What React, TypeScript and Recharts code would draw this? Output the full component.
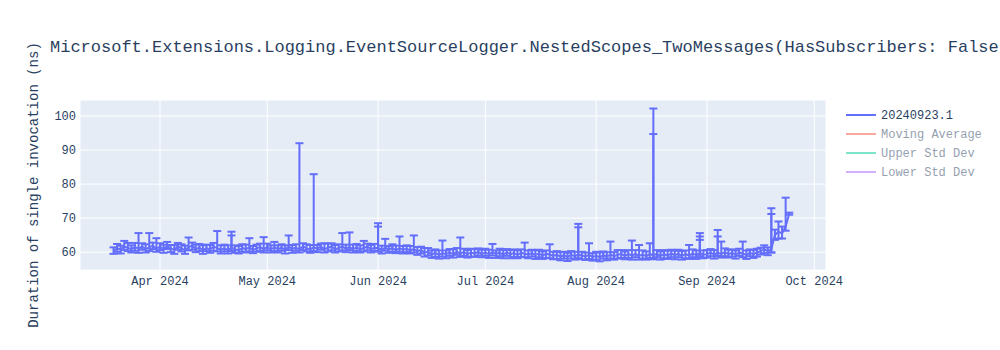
import React from "react";
import {
  ComposedChart,
  Line,
  ErrorBar,
  XAxis,
  YAxis,
  CartesianGrid,
  Customized,
} from "recharts";

// Daily runs: mean duration (ns), and the error above / below it
// March starts on the 19th, September ends on the 24th
const marMean = [60.4, 61.1, 60.8, 61.7, 61.2, 60.9, 61.5, 61.0, 61.6, 60.9, 61.4, 61.9, 61.0];
const marUp = [1.0, 1.3, 1.1, 1.6, 1.5, 1.1, 1.2, 4.6, 1.0, 1.4, 4.2, 0.9, 3.1];
const marDown = [0.9, 1.0, 1.2, 1.1, 0.9, 1.0, 1.1, 1.2, 0.9, 1.0, 1.1, 1.0, 0.9];

const aprMean = [61.6, 60.9, 61.8, 61.0, 60.7, 61.7, 61.1, 60.6, 61.5, 61.9, 60.9, 61.3, 60.6, 61.2, 60.8, 61.6, 61.2, 60.7, 61.1, 60.6, 61.4, 60.8, 60.5, 61.2, 60.9, 61.4, 60.6, 61.1, 61.5, 60.9];
const aprUp = [1.0, 1.3, 1.2, 1.1, 1.4, 1.0, 1.2, 1.3, 2.8, 0.9, 1.3, 1.1, 1.4, 1.0, 1.3, 1.1, 5.0, 1.3, 1.1, 1.4, 4.6, 1.2, 1.3, 1.1, 1.3, 2.7, 1.2, 1.1, 1.0, 3.5];
const aprDown = [1.0, 1.1, 0.9, 1.0, 1.2, 1.0, 0.9, 1.1, 1.0, 1.2, 0.9, 1.0, 1.1, 0.9, 1.0, 1.2, 1.0, 1.1, 0.9, 1.0, 1.1, 1.0, 0.9, 1.1, 1.0, 1.2, 0.9, 1.0, 1.1, 1.0];

const mayMean = [61.5, 60.8, 61.4, 60.9, 61.3, 60.7, 61.6, 61.0, 61.3, 60.9, 61.7, 61.1, 60.8, 61.4, 61.0, 61.6, 60.9, 61.3, 61.7, 60.8, 61.2, 61.6, 61.0, 61.5, 60.9, 61.4, 60.8, 61.2, 61.6, 60.9, 61.3];
const mayUp = [1.0, 1.2, 1.6, 1.1, 1.0, 1.3, 3.3, 1.1, 1.0, 31.1, 0.9, 1.2, 1.3, 21.5, 1.1, 0.9, 1.7, 1.2, 0.9, 1.3, 1.1, 4.0, 1.2, 4.3, 1.3, 1.0, 1.2, 2.1, 0.9, 1.2, 1.1];
const mayDown = [1.0, 0.9, 1.1, 1.0, 0.9, 1.1, 1.0, 1.2, 0.9, 1.0, 1.1, 0.9, 1.0, 1.1, 1.0, 0.9, 1.0, 1.1, 1.2, 0.9, 1.0, 1.1, 1.0, 0.9, 1.0, 1.1, 0.9, 1.0, 1.1, 1.0, 0.9];

const junMean = [61.2, 60.7, 61.3, 60.8, 61.2, 60.6, 61.1, 60.7, 61.0, 60.5, 60.9, 60.3, 60.6, 59.9, 60.1, 59.3, 59.8, 59.2, 59.7, 59.4, 59.9, 59.5, 60.1, 59.6, 60.0, 59.4, 59.9, 59.6, 60.1, 59.5];
const junUp = [7.3, 1.2, 2.6, 1.0, 1.1, 1.3, 3.5, 1.1, 1.0, 1.3, 4.0, 1.2, 1.0, 1.3, 1.1, 1.2, 1.0, 1.3, 3.7, 1.1, 1.0, 1.3, 1.1, 4.7, 1.0, 1.2, 1.1, 1.3, 1.0, 1.2];
const junDown = [1.0, 1.1, 0.9, 1.0, 1.1, 0.9, 1.0, 1.1, 1.0, 0.9, 1.0, 1.1, 1.0, 1.2, 1.1, 1.0, 1.2, 1.1, 1.0, 1.2, 1.0, 1.1, 0.9, 1.0, 1.1, 1.0, 1.2, 1.0, 1.1, 1.0];

const julMean = [59.9, 59.4, 60.0, 59.5, 59.8, 59.3, 59.9, 59.4, 59.7, 59.2, 59.8, 59.5, 59.3, 59.7, 59.2, 59.6, 59.0, 59.5, 59.3, 58.9, 59.2, 58.7, 59.1, 58.6, 59.2, 58.8, 59.3, 59.0, 58.7, 59.2, 58.6];
const julUp = [1.1, 1.3, 2.4, 1.0, 1.2, 1.3, 1.0, 1.2, 1.1, 1.3, 1.0, 3.3, 1.2, 1.0, 1.3, 1.1, 1.2, 1.0, 3.0, 1.2, 1.1, 1.3, 1.0, 1.2, 1.1, 1.3, 9.0, 1.1, 1.2, 3.4, 1.1];
const julDown = [1.0, 1.1, 1.0, 1.2, 1.0, 1.1, 1.0, 1.2, 1.1, 1.0, 1.2, 1.0, 1.1, 1.0, 1.2, 1.1, 1.0, 1.2, 1.1, 1.0, 1.2, 1.1, 1.0, 1.2, 1.1, 1.0, 1.2, 1.1, 1.0, 1.2, 1.1];

const augMean = [58.9, 58.5, 59.1, 58.7, 59.3, 58.8, 59.2, 59.5, 58.9, 59.4, 59.0, 59.5, 58.9, 59.3, 58.8, 59.4, 59.1, 59.5, 58.9, 59.4, 59.0, 59.6, 59.1, 59.5, 58.9, 59.4, 59.0, 59.6, 59.2, 59.7, 59.3];
const augUp = [1.2, 1.4, 1.1, 1.3, 3.8, 1.2, 1.4, 1.1, 1.3, 1.2, 4.4, 1.1, 3.2, 1.2, 1.4, 3.2, 43.1, 1.1, 1.3, 1.2, 1.4, 1.1, 1.3, 1.2, 1.4, 1.1, 3.1, 1.2, 1.3, 5.9, 1.2];
const augDown = [1.1, 1.2, 1.0, 1.1, 1.2, 1.0, 1.1, 1.2, 1.0, 1.1, 1.2, 1.0, 1.1, 1.2, 1.0, 1.1, 1.2, 1.0, 1.1, 1.2, 1.0, 1.1, 1.2, 1.0, 1.1, 1.2, 1.0, 1.1, 1.2, 1.0, 1.1];

const sepMean = [59.4, 59.9, 59.3, 59.8, 59.5, 60.0, 59.4, 59.8, 59.3, 59.9, 59.6, 59.2, 59.8, 59.4, 59.9, 60.3, 60.8, 60.3, 60.9, 65.0, 66.0, 65.5, 67.5, 71.3];
const sepUp = [1.2, 1.0, 1.3, 6.7, 3.6, 1.1, 1.3, 1.0, 1.2, 1.1, 3.5, 1.3, 1.0, 1.2, 1.1, 1.0, 1.2, 1.1, 12.0, 1.6, 3.0, 2.0, 8.5, 0.3];
const sepDown = [1.0, 1.1, 1.2, 1.0, 1.1, 1.2, 1.0, 1.1, 1.2, 1.0, 1.1, 1.2, 1.0, 1.1, 1.2, 1.0, 1.1, 1.2, 1.0, 1.4, 2.0, 1.5, 1.2, 0.3];

// month index (0-based) and the first day of the runs in that month
const monthRuns = [
  { month: 2, firstDay: 19, mean: marMean, up: marUp, down: marDown },
  { month: 3, firstDay: 1, mean: aprMean, up: aprUp, down: aprDown },
  { month: 4, firstDay: 1, mean: mayMean, up: mayUp, down: mayDown },
  { month: 5, firstDay: 1, mean: junMean, up: junUp, down: junDown },
  { month: 6, firstDay: 1, mean: julMean, up: julUp, down: julDown },
  { month: 7, firstDay: 1, mean: augMean, up: augUp, down: augDown },
  { month: 8, firstDay: 1, mean: sepMean, up: sepUp, down: sepDown },
];

// second runs on the same day (stacked caps in the picture)
const extraRuns = [
  { month: 3, day: 21, mean: 61.4, up: 3.5, down: 1.0 },
  { month: 5, day: 1, mean: 61.2, up: 6.3, down: 1.0 },
  { month: 6, day: 27, mean: 59.3, up: 8.0, down: 1.1 },
  { month: 7, day: 17, mean: 59.1, up: 35.6, down: 1.1 },
  { month: 7, day: 30, mean: 59.7, up: 4.9, down: 1.0 },
  { month: 7, day: 30, mean: 59.7, up: 3.9, down: 1.0 },
  { month: 8, day: 4, mean: 59.8, up: 4.8, down: 1.0 },
  { month: 8, day: 19, mean: 60.9, up: 10.3, down: 1.0 },
];

const monthNames = ["Jan", "Feb", "Mar", "Apr", "May", "Jun", "Jul", "Aug", "Sep", "Oct", "Nov", "Dec"];
const xTicks = [3, 4, 5, 6, 7, 8, 9].map((m) => Date.UTC(2024, m, 1));
const yTicks = [60, 70, 80, 90, 100];

const legendItems = [
  { name: "20240923.1", color: "#636efa", visible: true },
  { name: "Moving Average", color: "#EF553B", visible: false },
  { name: "Upper Std Dev", color: "#00cc96", visible: false },
  { name: "Lower Std Dev", color: "#ab63fa", visible: false },
];

const title = "Microsoft.Extensions.Logging.EventSourceLogger.NestedScopes_TwoMessages(HasSubscribers: False)";
const yTitle = "Duration of single invocation (ns)";

const FONT = "'Courier New', 'Liberation Mono', monospace";
const TEXT = "#2a3f5f";

const data = [
  ...monthRuns.flatMap((r) =>
    r.mean.map((v, i) => ({
      t: Date.UTC(2024, r.month, r.firstDay + i),
      value: v,
      err: [r.down[i], r.up[i]],
    }))
  ),
  ...extraRuns.map((r) => ({
    t: Date.UTC(2024, r.month, r.day),
    value: r.mean,
    err: [r.down, r.up],
  })),
].sort((a, b) => a.t - b.t);

const formatMonth = (t: number) => {
  const d = new Date(t);
  return `${monthNames[d.getUTCMonth()]} ${d.getUTCFullYear()}`;
};

// titles and the plotly-style legend (hidden traces greyed out)
const Decorations = () => (
  <g>
    <text x={50} y={52} fontFamily={FONT} fontSize={17} fill={TEXT}>
      {title}
    </text>
    <text
      x={38}
      y={185}
      transform="rotate(-90 38 185)"
      textAnchor="middle"
      fontFamily={FONT}
      fontSize={14}
      fill={TEXT}
    >
      {yTitle}
    </text>
    {legendItems.map((item, i) => {
      const y = 115 + i * 19;
      return (
        <g key={item.name} opacity={item.visible ? 1 : 0.5}>
          <line x1={846} x2={876} y1={y} y2={y} stroke={item.color} strokeWidth={2} />
          <text x={881} y={y + 4} fontFamily={FONT} fontSize={12} fill={TEXT}>
            {item.name}
          </text>
        </g>
      );
    })}
  </g>
);

export default function App() {
  return (
    <div style={{ position: "absolute", left: 0, top: 0, width: 1000, height: 350, background: "#fff" }}>
      <ComposedChart
        width={1000}
        height={350}
        data={data}
        margin={{ top: 100, right: 174, bottom: 50, left: 0 }}
      >
        <CartesianGrid stroke="#fff" strokeWidth={1} fill="#E5ECF6" fillOpacity={1} />
        <XAxis
          dataKey="t"
          type="number"
          domain={[Date.UTC(2024, 2, 9, 15), Date.UTC(2024, 9, 4, 7)]}
          ticks={xTicks}
          tickFormatter={formatMonth}
          axisLine={false}
          tickLine={false}
          tickSize={0}
          tickMargin={6}
          height={30}
          allowDataOverflow
          tick={{ fontFamily: FONT, fontSize: 12, fill: TEXT }}
        />
        <YAxis
          type="number"
          domain={[54.75, 104.7]}
          ticks={yTicks}
          axisLine={false}
          tickLine={false}
          tickSize={0}
          tickMargin={4}
          width={80}
          allowDataOverflow
          tick={{ fontFamily: FONT, fontSize: 12, fill: TEXT }}
        />
        <Line
          dataKey="value"
          type="linear"
          stroke="#636efa"
          strokeWidth={2}
          dot={false}
          isAnimationActive={false}
        >
          <ErrorBar dataKey="err" direction="y" width={4} strokeWidth={2} stroke="#636efa" />
        </Line>
        <Customized component={Decorations} />
      </ComposedChart>
    </div>
  );
}
